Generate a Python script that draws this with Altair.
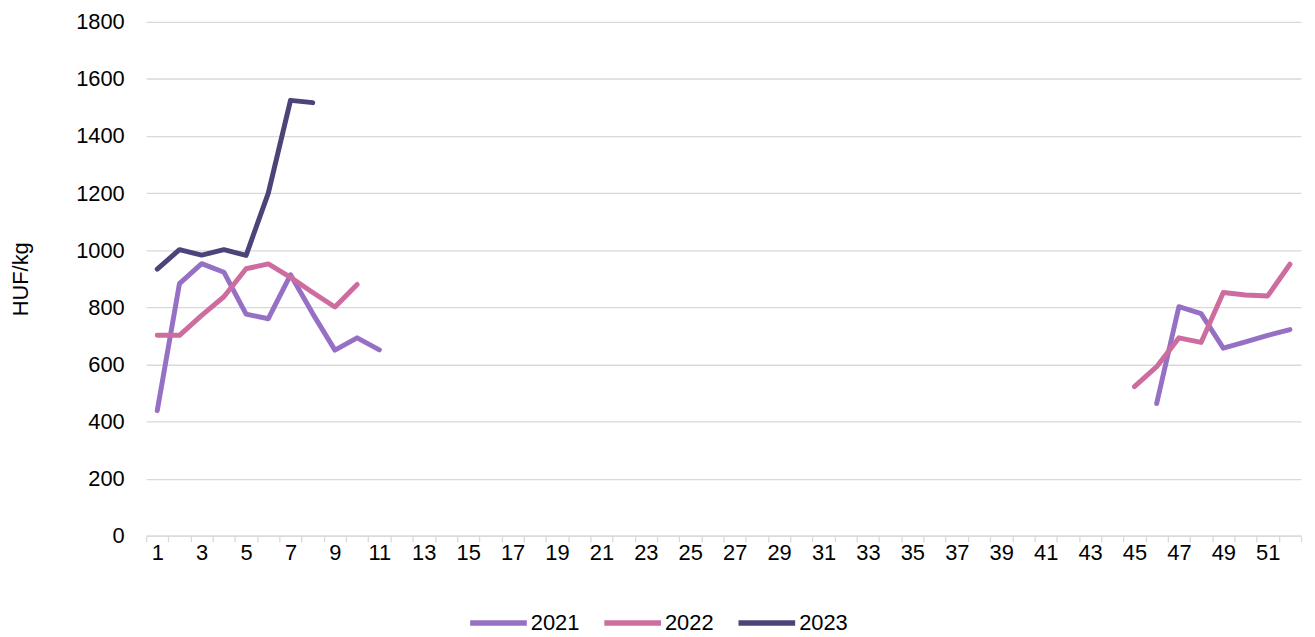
import altair as alt
import pandas as pd

years = ["2021", "2022", "2023"]
colors = ["#9670C4", "#CD6C9E", "#4B4478"]

# (year, segment, weeks, values)
w2021_a = list(range(1, 12))
v2021_a = [438, 883, 953, 923, 776, 760, 914, 778, 650, 693, 651]
w2021_b = list(range(46, 53))
v2021_b = [463, 802, 778, 657, 679, 702, 722]

w2022_a = list(range(1, 11))
v2022_a = [702, 702, 772, 837, 935, 952, 905, 852, 801, 880]
w2022_b = list(range(45, 53))
v2022_b = [522, 592, 693, 677, 852, 843, 840, 951]

w2023_a = list(range(1, 9))
v2023_a = [934, 1002, 983, 1002, 982, 1200, 1525, 1517]

series = [
    ("2021", "2021a", w2021_a, v2021_a),
    ("2021", "2021b", w2021_b, v2021_b),
    ("2022", "2022a", w2022_a, v2022_a),
    ("2022", "2022b", w2022_b, v2022_b),
    ("2023", "2023a", w2023_a, v2023_a),
]

rows = []
for yr, seg, ws, vs in series:
    for w, v in zip(ws, vs):
        rows.append({"year": yr, "seg": seg, "week": w, "value": v})
df = pd.DataFrame(rows)

n_weeks = 52
boundaries = [i + 0.5 for i in range(0, n_weeks + 1)]
step = 1162 / n_weeks

font = "Liberation Sans"

chart = alt.Chart(df).mark_line(strokeWidth=5, strokeCap="round", strokeJoin="round").encode(
    x=alt.X("week:Q",
            scale=alt.Scale(domain=[0.5, n_weeks + 0.5], nice=False, zero=False),
            axis=alt.Axis(values=boundaries, title=None, grid=False,
                          labelExpr="((datum.value + 0.5) % 2 == 1 && datum.value < 52) ? format(datum.value + 0.5, 'd') : ''",
                          labelOffset=step / 2, labelOverlap=False, labelFlush=False,
                          labelFontSize=22, labelFont=font, labelColor="#000000",
                          labelPadding=1, tickSize=6, tickColor="#D9D9D9", tickWidth=1.3,
                          domainColor="#D9D9D9", domainWidth=1.3)),
    y=alt.Y("value:Q",
            scale=alt.Scale(domain=[0, 1800], nice=False),
            axis=alt.Axis(values=list(range(0, 1801, 200)), format="d", title="HUF/kg",
                          titleFont=font, titleFontSize=22, titleFontWeight="normal",
                          titleColor="#000000", titlePadding=43,
                          labelFont=font, labelFontSize=22, labelColor="#000000",
                          labelPadding=22, ticks=False, domain=False,
                          gridColor="#D9D9D9", gridWidth=1.3)),
    color=alt.Color("year:N",
                    scale=alt.Scale(domain=years, range=colors),
                    legend=alt.Legend(title=None, orient="none", direction="horizontal",
                                      legendX=323, legendY=573,
                                      symbolType="stroke", symbolSize=3249,
                                      symbolStrokeWidth=5.5, labelFont=font,
                                      labelFontSize=22, labelColor="#000000",
                                      labelOffset=1, columnPadding=14, padding=0)),
    detail="seg:N",
).properties(
    width=1162, height=517,
    autosize=alt.AutoSizeParams(type="none"),
    padding={"left": 139, "top": 12, "right": 6, "bottom": 100},
).configure_view(stroke=None)

chart.save("out.html", embed_options={"renderer": "svg", "actions": False})
